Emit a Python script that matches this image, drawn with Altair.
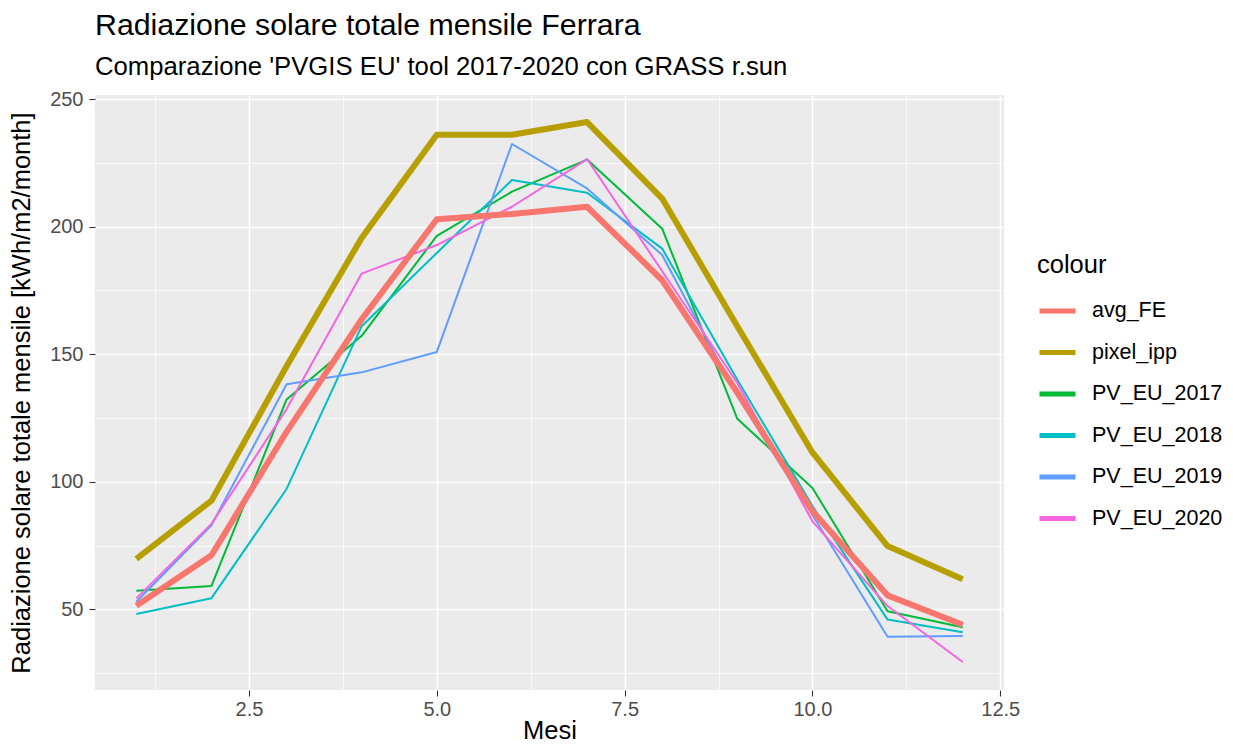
import altair as alt
import pandas as pd

months = [1, 2, 3, 4, 5, 6, 7, 8, 9, 10, 11, 12]
series_names = ["avg_FE", "pixel_ipp", "PV_EU_2017", "PV_EU_2018", "PV_EU_2019", "PV_EU_2020"]
series_colors = ["#F8766D", "#B79F00", "#00BA38", "#00BFC4", "#619CFF", "#F564E3"]

avg_FE = [51.4, 71.2, 119.6, 163.7, 202.9, 205.0, 207.8, 179.0, 135.0, 88.5, 55.5, 44.0]
pixel_ipp = [69.8, 92.6, 145.3, 195.6, 236.0, 236.0, 241.0, 211.0, 161.0, 111.5, 74.8, 61.8]
PV_EU_2017 = [57.3, 59.2, 132.3, 157.2, 196.4, 213.7, 226.3, 199.2, 124.7, 97.6, 49.3, 43.0]
PV_EU_2018 = [48.2, 54.4, 97.2, 161.0, 189.7, 218.3, 213.3, 191.4, 140.0, 90.5, 46.0, 41.0]
PV_EU_2019 = [53.0, 83.0, 138.2, 142.9, 150.9, 232.4, 215.0, 188.9, 133.5, 87.0, 39.3, 39.6]
PV_EU_2020 = [54.3, 83.5, 128.5, 181.6, 192.8, 207.8, 226.5, 182.5, 138.7, 84.5, 51.3, 29.4]

x_ticks = [1.25, 2.5, 3.75, 5.0, 6.25, 7.5, 8.75, 10.0, 11.25, 12.5]
y_ticks = [25, 50, 75, 100, 125, 150, 175, 200, 225, 250]

all_values = [avg_FE, pixel_ipp, PV_EU_2017, PV_EU_2018, PV_EU_2019, PV_EU_2020]
rows = []
for name, vals in zip(series_names, all_values):
    for m, v in zip(months, vals):
        rows.append({"Mesi": m, "value": v, "colour": name})
df = pd.DataFrame(rows)

FONT = "Liberation Sans"
thick = ["avg_FE", "pixel_ipp"]

x_enc = alt.X(
    "Mesi:Q",
    scale=alt.Scale(domain=[0.45, 12.55], nice=False, zero=False),
    axis=alt.Axis(
        values=x_ticks,
        labelExpr="datum.value % 2.5 === 0 ? format(datum.value, '.1f') : ''",
        gridWidth={"condition": {"test": "datum.value % 2.5 === 0", "value": 1.5}, "value": 0.7},
        tickOpacity={"condition": {"test": "datum.value % 2.5 === 0", "value": 1}, "value": 0},
        title="Mesi",
        labelPadding=3,
        titlePadding=-1,
    ),
)
y_enc = alt.Y(
    "value:Q",
    scale=alt.Scale(domain=[18.4, 251.6], nice=False, zero=False),
    axis=alt.Axis(
        values=y_ticks,
        labelExpr="datum.value % 50 === 0 ? format(datum.value, 'd') : ''",
        gridWidth={"condition": {"test": "datum.value % 50 === 0", "value": 1.5}, "value": 0.7},
        tickOpacity={"condition": {"test": "datum.value % 50 === 0", "value": 1}, "value": 0},
        title="Radiazione solare totale mensile [kWh/m2/month]",
        labelPadding=6,
        titlePadding=15,
    ),
)
color_enc = alt.Color(
    "colour:N",
    scale=alt.Scale(domain=series_names, range=series_colors),
    sort=series_names,
    legend=alt.Legend(
        title="colour",
        orient="none",
        legendX=942,
        legendY=158,
        symbolType="stroke",
        symbolSize=1296,
        symbolStrokeWidth=5,
        labelFontSize=21.5,
        labelFont=FONT,
        labelColor="black",
        titleFontSize=25.5,
        titleFont=FONT,
        titleFontWeight="normal",
        titleColor="black",
        titlePadding=12,
        rowPadding=10.5,
        labelOffset=14,
    ),
)

thin_layer = (
    alt.Chart(df)
    .transform_filter(alt.FieldOneOfPredicate(field="colour", oneOf=series_names[2:]))
    .mark_line(strokeWidth=2, strokeJoin="round")
    .encode(x=x_enc, y=y_enc, color=color_enc, detail="colour:N")
)
thick_layer = (
    alt.Chart(df)
    .transform_filter(alt.FieldOneOfPredicate(field="colour", oneOf=thick))
    .mark_line(strokeWidth=6, strokeJoin="round")
    .encode(x=x_enc, y=y_enc, color=color_enc, detail="colour:N")
)

chart = (
    alt.layer(thin_layer, thick_layer)
    .properties(
        width=909,
        height=595,
        autosize=alt.AutoSizeParams(type="none"),
        padding={"left": 87, "top": 87, "right": 220, "bottom": 54},
        title=alt.TitleParams(
            text="Radiazione solare totale mensile Ferrara",
            subtitle="Comparazione 'PVGIS EU' tool 2017-2020 con GRASS r.sun",
            anchor="start",
            frame="group",
            font=FONT,
            subtitleFont=FONT,
            fontSize=30.3,
            subtitleFontSize=25.7,
            fontWeight="normal",
            color="black",
            subtitleColor="black",
            subtitlePadding=14,
            offset=9,
        ),
    )
    .configure_view(fill="#EBEBEB", stroke=None)
    .configure_axis(
        gridColor="white",
        domain=False,
        tickColor="#333333",
        tickSize=6,
        tickWidth=1.1,
        labelColor="#4D4D4D",
        labelFontSize=20,
        labelFont=FONT,
        titleFont=FONT,
        titleFontSize=25.5,
        titleFontWeight="normal",
        titleColor="black",
    )
)

chart.save("out.html", embed_options={"renderer": "svg", "actions": False})
